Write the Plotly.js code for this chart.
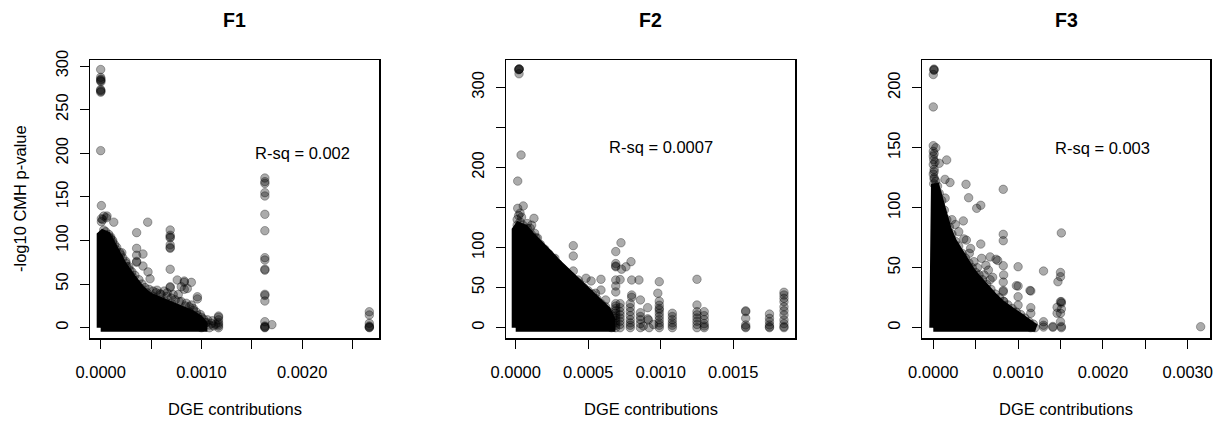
<!DOCTYPE html>
<html>
<head>
<meta charset="utf-8">
<script src="https://cdn.plot.ly/plotly-3.0.1.min.js"></script>
<style>html,body{margin:0;padding:0;background:#fff;}#chart{width:1217px;height:423px;}</style>
</head>
<body>
<div id="chart"></div>
<script>
// ---------- data ----------
const panelTitles = ["F1", "F2", "F3"];
const rsqLabels = ["R-sq = 0.002", "R-sq = 0.0007", "R-sq = 0.003"];
const rsqX = [0.002, 0.001, 0.002];
const rsqY = [200, 225, 150];
const xTitle = "DGE contributions";
const yTitle = "-log10 CMH p-value";

// tick labels
const p1XTicks = [0, 0.0005, 0.001, 0.0015, 0.002, 0.0025];
const p1XText = ["0.0000", "", "0.0010", "", "0.0020", ""];
const p2XTicks = [0, 0.0005, 0.001, 0.0015];
const p2XText = ["0.0000", "0.0005", "0.0010", "0.0015"];
const p3XTicks = [0, 0.0005, 0.001, 0.0015, 0.002, 0.0025, 0.003];
const p3XText = ["0.0000", "", "0.0010", "", "0.0020", "", "0.0030"];
const p1YTicks = [0, 50, 100, 150, 200, 250, 300];
const p1YText = ["0", "50", "100", "150", "200", "250", "300"];
const p2YTicks = [0, 50, 100, 150, 200, 250, 300];
const p2YText = ["0", "50", "100", "", "200", "", "300"];
const p3YTicks = [0, 50, 100, 150, 200];
const p3YText = ["0", "50", "100", "150", "200"];

// dense (solid black) mass outline of each panel
const p1CoreX = [0, 0, 0.00002, 0.00006, 0.00009, 0.00013, 0.00017, 0.00022, 0.00028, 0.00034, 0.0004, 0.00048, 0.00056, 0.00064, 0.00072, 0.0008, 0.0009, 0.00098, 0.00102, 0.00102, 0];
const p1CoreY = [0, 106, 108, 106, 100, 90, 82, 72, 62, 52, 44, 36, 32, 30, 26, 22, 16, 10, 4, 0, 0];
const p2CoreX = [0, 0, 0.00002, 0.00006, 0.0001, 0.00016, 0.00022, 0.00028, 0.00034, 0.0004, 0.00046, 0.00052, 0.00058, 0.00063, 0.00066, 0.00066, 0];
const p2CoreY = [0, 122, 127, 124, 116, 106, 94, 82, 72, 62, 52, 42, 32, 22, 10, 0, 0];
const p3CoreX = [0, 0, 0.00002, 0.00005, 0.00008, 0.00012, 0.00017, 0.00023, 0.0003, 0.00038, 0.00045, 0.00052, 0.0006, 0.00071, 0.0008, 0.0009, 0.001, 0.0011, 0.0012, 0.0012, 0];
const p3CoreY = [0, 118, 120, 112, 104, 93, 82, 72, 63, 54, 47, 41, 34, 26, 20, 15, 10, 6, 2, 0, 0];

// individual points, panel F1
const p1X = [0,0,0.000003,0,0,0.000003,0,0,0.000003,0,
  0,0.000007,0.00003,0.000063,0.000007,0.000007,0.00013,0.00002,0.000057,
  0.000467,0.000357,
  0.00069,0.00069,0.00069,0.00069,0.00069,0.00069,0.00069,0.00069,
  0.000357,0.000357,0.000357,0.000357,0.00042,0.00042,0.00047,0.00049,
  0.00021,0.0002,0.00025,0.00029,0.00032,
  0.00056,0.00059,0.00069,0.00069,0.00076,0.00083,0.00083,0.0009,0.00086,0.0008,0.00096,0.00096,
  0.0007,0.0009,
  0.00106,0.00117,0.00117,0.00117,0.00117,0.00117,0.00117,0.00117,0.0011,0.00104,0.00112,0.00108,
  0.00008,0.0001,0.00012,0.00015,0.00012,0.00018,0.00026,0.00028,0.00036,0.0004,0.00046,0.00052,0.0006,0.00064,0.00066,0.00072,0.00078,0.00084,0.00088,0.00092,0.00096,0.001,0.00095,0.00102,0.001,
  0.00003,0.00005,0.00008,0.0001,0.00012,0.00014,0.00016,0.00019,0.00022,0.00025,0.00028,0.00031,0.00034,0.00038,0.00041,0.00044,0.00048,0.00052,0.00055,0.0006,0.00063,0.00066,0.0007,0.00074,0.00077,0.0008,0.00083,0.00085,0.00088,0.00092,0.00095,0.00099,0.00102,0.00105,0.00108,0.00111,0.00114,
  0.00163,0.00163,0.00163,0.00163,0.00163,0.00163,0.00163,0.00163,0.00163,0.00163,0.00163,0.00163,0.00163,0.00163,0.00163,0.00163,0.00163,0.00163,0.00163,0.0017,
  0.002667,0.002667,0.002667,0.002667,0.002667,0.002667,0.002667];
const p1Y = [296,287,285,284,283,282,273,272,271,270,
  203,140,128,128,125,121.5,121,124,126,
  121,109,
  112,106,104,103,95,92,91,67,
  91,83,76,75,84.5,70.7,64,56,
  86,83.5,74,66,58,
  43,39,47,46,54.7,53.5,52,52,45,47,35.5,33,
  28,26,
  9,13.4,12,9,6,4,2,0,5,5.6,2,0,
  104,102,98,90,92,80,70,62,50,45,40,36,32,30,40,38,30,25,18,20,14,12,8,4,0,
  112,110,107,104,100,95,92,86,80,76,70,64,60,55,50,46,44,42,40,38,42,36,34,32,38,30,44,28,24,22,18,15,10,6,3,8,4,
  171.6,167.4,165.4,154.8,151,130,111.2,80.3,77.6,67,66,38.3,37,30.6,6.9,2,1,0,0.5,3.5,
  18.3,14.6,5,1,0,0.5,2];

// individual points, panel F2
const p2X = [0.000023,0.000023,0.00002,0.000025,0.000023,
  0.000037,0.000014,
  0.000014,0.000052,0.00003,0.00002,0.00001,0.00004,
  0.000126,0.00011,0.00008,
  0.000163,0.00019,0.00021,0.00027,0.00027,0.00024,0.00015,0.00013,0.0001,
  0.000397,0.000397,0.000397,0.00036,0.00043,0.000485,0.00052,0.000588,0.000588,0.00055,0.00062,0.00035,0.0005,0.00032,0.00029,0.0003,0.00045,0.00047,0.00041,
  0.00069,0.000726,0.00069,0.00069,0.00069,0.00073,0.000795,0.00076,0.0008,0.00085,0.00069,0.00069,0.00072,0.00069,0.0008,0.0008,0.00086,0.00086,0.00091,0.00091,0.00099,0.00098,
  0.00069,0.00069,0.00069,0.00069,0.00069,0.00069,0.00069,0.00069,0.00069,0.00069,0.00069,
  0.00072,0.00072,0.00072,0.00072,0.00072,0.00072,0.00072,0.00072,
  0.00079,0.00079,0.00079,0.00079,0.00079,0.00079,0.00079,0.00079,
  0.00086,0.00086,0.00086,0.00086,
  0.00099,0.00099,0.00099,0.00099,0.00099,0.00099,0.00099,0.00099,0.00099,0.00099,
  0.00108,0.00108,0.00108,0.00108,0.00108,0.00108,
  0.00125,0.00125,0.00125,0.00125,0.00125,0.00125,0.00125,0.00125,
  0.0013,0.0013,0.0013,0.0013,0.0013,0.0013,
  0.000915,0.00095,0.00092,0.00088,
  0.001586,0.001586,0.001586,0.001586,0.001586,0.001586,
  0.00175,0.00175,0.00175,0.00175,0.00175,0.00175,
  0.00185,0.00185,0.00185,0.00185,0.00185,0.00185,0.00185,0.00185,0.00185,0.00185,0.00185,
  0.00001,0.00003,0.00005,0.00008,0.00011,0.00014,0.00017,0.0002,0.00023,0.00026,0.00029,0.00032,0.00035,0.00038,0.00041,0.00044,0.00047,0.0005,0.00053,0.00056,0.00059,0.00062,0.00064,0.00067,0.00067,0.00066];
const p2Y = [323,322.5,322,323,317,
  215.6,183,
  149,152,143,140,135,138,
  136.5,128,130,
  103,95,90,86.6,81,78,112,118,124,
  102.4,89.5,70.8,59.5,59.5,61.7,58.3,60.4,47,43,34.6,49,40.8,62,66,55,52,45,48,
  95,106,80,77,76,73,82.4,76,59.5,59.5,59.5,52,60,44.6,40.8,38,34.6,18.7,25,11,57.4,43,
  0,3,6,9,12,15,18,21,24,27,30,
  0,4,8,12,16,20,25,30,
  0,3,6,10,15,20,25,30,
  0,5,10,14,
  33,28,24,22,18,14,10,6,3,0,
  18,14,10,6,3,0,
  60.4,28.3,20,16,12,8,4,0,
  20,15,10,5,2,0,
  9.6,4,0,2,
  21,20,11.7,3.4,1,0,
  17,11.7,7.5,3.4,1,0,
  44.2,40.8,36.7,32.5,26,21,15.9,9.6,5,1.3,0,
  128,132,128,124,116,112,104,98,92,86,80,74,68,64,58,55,50,46,42,36,30,26,20,14,6,0];

// individual points, panel F3
const p3X = [0.0000083,0.0000083,0.0000083,0,
  0,
  0,0,0,0.000005,0,0.00001,0,0.00001,0.000005,
  0.000158,0.00007,0.000138,0.000197,0.000386,0.000825,0.000417,0.000512,0.00056,0.00014,0.000354,0.00022,0.000825,0.000825,0.00056,0.00151,0.00039,0.000425,0.00057,0.00067,0.00076,0.000825,0.001,0.0013,0.0015,0.0015,0.00147,0.001,0.001,0.00115,0.000825,0.000825,0.000825,0.001,0.00115,0.00115,0.00151,0.00151,0.00151,0.00146,0.0015,0.00151,0.00151,0.0013,0.0013,0.0013,0.00141,0.00141,0.00115,0.00115,0.003153,
  0.00005,0.00008,0.0001,0.00015,0.00017,0.00023,0.00025,0.0003,0.00033,0.0004,0.00044,0.0005,0.00055,0.0006,0.00066,0.0007,0.00075,0.00085,0.0009,0.00098,0.00104,0.0011,0.00108,
  0.0006,0.00065,0.0007,0.00062,0.00052,0.00048,0.00044,0.00036,0.0003,0.00026,
  0.00074,0.00098,0.00114,0.00067,0.00083,0.00083,0.0015,0.0015,0.00146,
  0.00001,0.00003,0.00005,0.00007,0.0001,0.00013,0.00016,0.00019,0.00022,0.00026,0.0003,0.00034,0.00038,0.00042,0.00046,0.0005,0.00054,0.00058,0.00063,0.00068,0.00073,0.00078,0.00083,0.00088,0.00093,0.00098,0.00103,0.00108,0.00113,0.00118,0.0012,0.00003,0.00001,0.00002,0.00001];
const p3Y = [215,215.5,214.5,211,
  184,
  151.7,147,143,140,136,132,128,124,120,
  139.8,137,123.6,121,119.5,115.3,108.3,99.5,102,108,89,90,77.8,72.5,69.7,79,73,62,57.8,59,56,51.7,50.8,47.2,46,42.5,38.3,34.7,25.8,30.6,38,31,30,18.8,16.7,12,21.7,20.5,15.6,12,5,1,0,5,0.5,2,0.3,1,0,2,0.8,
  112,102,96,86,80,70,66,58,54,46,42,36,33,31,25,23,20,16,13,10,8,4,2,
  44,48,42,52,50,55,66,74,80,86,
  57,35,31,40,21.7,44,21.7,12,17,
  125,122,118,112,106,98,90,84,78,72,68,62,58,54,50,46,44,40,36,32,28,25,22,19,16,13,11,8,5,3,0,150,145,138,130];

// ---------- drawing ----------
const W = 1217, H = 423;
const boxes = [[90, 379], [506, 795], [922, 1210]];
const boxTop = 60, boxBottom = 338;
const xRanges = [[-0.000106, 0.002763], [-0.0000669, 0.001926], [-0.000133, 0.003263]];
const yRanges = [[-11.8, 306.9], [-12.9, 334.2], [-8.6, 223.1]];

const cores = [[p1CoreX, p1CoreY], [p2CoreX, p2CoreY], [p3CoreX, p3CoreY]];
const pts = [[p1X, p1Y], [p2X, p2Y], [p3X, p3Y]];
const xt = [[p1XTicks, p1XText], [p2XTicks, p2XText], [p3XTicks, p3XText]];
const yt = [[p1YTicks, p1YText], [p2YTicks, p2YText], [p3YTicks, p3YText]];

const FONT = "Liberation Sans, Arial, Helvetica, sans-serif";
const traces = [];
const layout = {
  width: W, height: H,
  margin: {l: 0, r: 0, t: 0, b: 0},
  paper_bgcolor: "#ffffff", plot_bgcolor: "#ffffff",
  showlegend: false,
  font: {family: FONT, size: 16.5, color: "#000"},
  annotations: []
};

for (let i = 0; i < 3; i++) {
  const sx = i === 0 ? "" : String(i + 1);
  const xa = "x" + sx, ya = "y" + sx;
  traces.push({
    type: "scatter", mode: "lines", x: cores[i][0], y: cores[i][1],
    xaxis: xa, yaxis: ya, fill: "toself", fillcolor: "#000",
    line: {color: "#000", width: 8}, hoverinfo: "skip"
  });
  traces.push({
    type: "scatter", mode: "markers", x: pts[i][0], y: pts[i][1],
    xaxis: xa, yaxis: ya,
    marker: {size: 8.5, color: "rgba(0,0,0,0.33)", line: {color: "rgba(0,0,0,0.3)", width: 1}},
    hoverinfo: "skip", cliponaxis: false
  });
  const common = {
    showgrid: false, zeroline: false, showline: true, mirror: true,
    linecolor: "#000", linewidth: 1.5,
    ticks: "outside", ticklen: 9, tickwidth: 1, tickcolor: "#000",
    tickmode: "array", tickfont: {family: FONT, size: 16.5, color: "#000"}, fixedrange: true
  };
  layout["xaxis" + sx] = Object.assign({}, common, {
    domain: [boxes[i][0] / W, boxes[i][1] / W], range: xRanges[i], anchor: ya,
    tickvals: xt[i][0], ticktext: xt[i][1], ticklabelstandoff: 10
  });
  layout["yaxis" + sx] = Object.assign({}, common, {
    domain: [1 - boxBottom / H, 1 - boxTop / H], range: yRanges[i], anchor: xa,
    tickvals: yt[i][0], ticktext: yt[i][1], tickangle: -90, ticklabelstandoff: 5
  });
  const cx = (boxes[i][0] + boxes[i][1]) / 2 / W;
  layout.annotations.push({
    text: "<b>" + panelTitles[i] + "</b>", xref: "paper", yref: "paper",
    x: cx, y: 1 - 20 / H, xanchor: "center", yanchor: "middle", showarrow: false,
    font: {family: FONT, size: 19.5, color: "#000"}
  });
  layout.annotations.push({
    text: xTitle, xref: "paper", yref: "paper",
    x: cx, y: 1 - 409 / H, xanchor: "center", yanchor: "middle", showarrow: false,
    font: {family: FONT, size: 16.5, color: "#000"}
  });
  layout.annotations.push({
    text: rsqLabels[i], xref: xa, yref: ya, x: rsqX[i], y: rsqY[i],
    xanchor: "center", yanchor: "middle", showarrow: false,
    font: {family: FONT, size: 16.5, color: "#000"}
  });
}
layout.annotations.push({
  text: yTitle, xref: "paper", yref: "paper", x: 20 / W, y: 1 - 199 / H,
  xanchor: "center", yanchor: "middle", textangle: -90, showarrow: false,
  font: {family: FONT, size: 16.5, color: "#000"}
});

Plotly.newPlot("chart", traces, layout, {staticPlot: true, displayModeBar: false});
</script>
</body>
</html>
